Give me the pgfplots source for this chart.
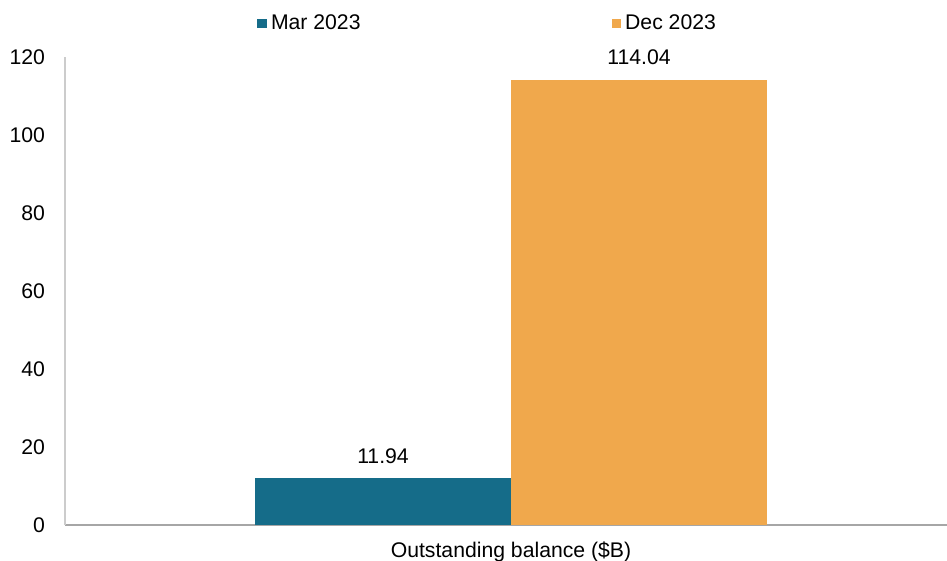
\documentclass[border=0pt]{standalone}
\usepackage{pgfplots}
\pgfplotsset{compat=1.18}
\usepackage{fontspec}
\setmainfont{Liberation Sans}
\definecolor{tealbar}{HTML}{156C89}
\definecolor{orangebar}{HTML}{F0A84C}
\begin{document}
\begin{tikzpicture}
\begin{axis}[
  scale only axis,
  width=441pt, height=234pt,
  ymin=0, ymax=120,
  xmin=-446, xmax=436,
  ytick={0,20,40,60,80,100,120},
  xtick={0},
  xticklabels={Outstanding balance (\$B)},
  major tick length=0pt,
  axis x line*=bottom,
  axis y line*=left,
  x axis line style={draw=black!35, line width=0.6pt, -},
  y axis line style={draw=black!20, line width=0.6pt, -},
  tick label style={font=\fontsize{10.6}{12}\selectfont},
  /pgf/number format/assume math mode=true,
  yticklabel style={xshift=-6.5pt},
  xticklabel style={yshift=-5pt},
  ybar,
  bar width=128pt,
  nodes near coords,
  nodes near coords style={font=\fontsize{10.6}{12}\selectfont, yshift=4pt, /pgf/number format/fixed, /pgf/number format/precision=2, /pgf/number format/fixed zerofill},
  legend columns=2,
  legend style={at={(rel axis cs:0.2177,1.1)}, anchor=north west, draw=none, inner sep=0pt, font=\fontsize{10.6}{12}\selectfont, /tikz/every even column/.append style={column sep=123.5pt}},
  legend image code/.code={\fill[#1] (0pt,-2.4pt) rectangle (4.8pt,2.4pt);},
]
\addplot[fill=tealbar, draw=none, bar shift=-64pt] coordinates {(0,11.94)};
\addlegendentry{Mar 2023}
\addplot[fill=orangebar, draw=none, bar shift=64pt] coordinates {(0,114.04)};
\addlegendentry{Dec 2023}
\coordinate (A) at (rel axis cs:0,0);
\coordinate (B) at (rel axis cs:1,1);
\end{axis}
\pgfresetboundingbox
\path ([xshift=-32.5pt,yshift=-18pt]A) rectangle ([yshift=28.5pt]B);
\end{tikzpicture}
\end{document}
